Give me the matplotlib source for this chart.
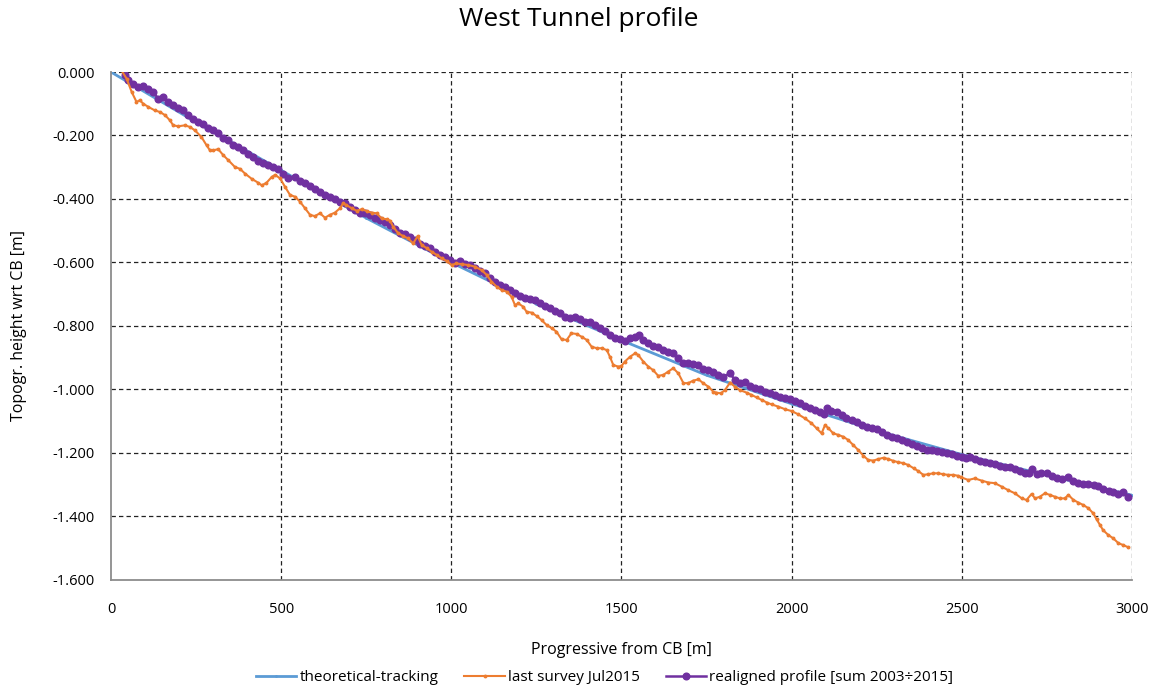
import matplotlib
matplotlib.use("Agg")
import matplotlib.pyplot as plt

# theoretical tracking (read at 250 m steps)
theo_x = [0, 250, 500, 750, 1000, 1250, 1500, 1750, 2000, 2250, 2500, 2750, 3000]
theo_y = [0.000, -0.158, -0.310, -0.460, -0.600, -0.730, -0.845, -0.955, -1.045,
          -1.130, -1.205, -1.270, -1.333]

# last survey Jul2015
survey_x = [31, 46, 61, 75, 85, 95, 110, 129, 144, 159, 173, 183, 198, 217, 232, 247,
            266, 281, 291, 300, 315, 330, 345, 364, 379, 394, 413, 433, 443, 457, 472,
            482, 497, 511, 526, 541, 555, 570, 585, 599, 614, 629, 643, 658, 673, 682,
            692, 707, 722, 737, 751, 766, 781, 795, 810, 820, 829, 844, 859, 873, 888,
            901, 913, 928, 942, 957, 972, 986, 1001, 1015, 1030, 1050, 1069, 1089, 1104,
            1118, 1133, 1148, 1163, 1177, 1187, 1197, 1211, 1221, 1236, 1251, 1265, 1280,
            1295, 1309, 1324, 1339, 1353, 1368, 1383, 1398, 1412, 1427, 1442, 1457, 1466,
            1476, 1491, 1500, 1510, 1525, 1540, 1549, 1564, 1579, 1593, 1608, 1623, 1637,
            1652, 1667, 1682, 1696, 1711, 1726, 1740, 1755, 1770, 1779, 1792, 1804, 1819,
            1833, 1848, 1868, 1882, 1897, 1912, 1927, 1941, 1961, 1980, 2000, 2019, 2039,
            2058, 2073, 2088, 2098, 2108, 2122, 2137, 2152, 2166, 2181, 2196, 2211, 2225,
            2240, 2255, 2270, 2284, 2299, 2313, 2328, 2343, 2358, 2372, 2387, 2401, 2416,
            2431, 2446, 2460, 2475, 2490, 2499, 2519, 2538, 2558, 2578, 2597, 2617, 2636,
            2656, 2676, 2690, 2705, 2715, 2729, 2744, 2759, 2774, 2788, 2803, 2813, 2828,
            2842, 2857, 2872, 2886, 2896, 2906, 2915, 2930, 2945, 2960, 2974, 2989]
survey_y = [0.005, -0.021, -0.063, -0.094, -0.089, -0.100, -0.110, -0.121, -0.126, -0.136,
            -0.152, -0.168, -0.171, -0.168, -0.173, -0.184, -0.205, -0.231, -0.247, -0.247,
            -0.243, -0.262, -0.278, -0.299, -0.305, -0.320, -0.336, -0.349, -0.357, -0.349,
            -0.331, -0.324, -0.335, -0.361, -0.387, -0.393, -0.408, -0.429, -0.450, -0.454,
            -0.445, -0.459, -0.450, -0.443, -0.429, -0.414, -0.419, -0.429, -0.437, -0.432,
            -0.438, -0.443, -0.445, -0.461, -0.464, -0.468, -0.487, -0.508, -0.517, -0.524,
            -0.540, -0.517, -0.545, -0.555, -0.566, -0.576, -0.587, -0.595, -0.608, -0.603,
            -0.605, -0.608, -0.613, -0.624, -0.639, -0.660, -0.676, -0.687, -0.692, -0.708,
            -0.734, -0.729, -0.739, -0.755, -0.758, -0.769, -0.781, -0.797, -0.807, -0.818,
            -0.842, -0.844, -0.823, -0.825, -0.834, -0.844, -0.865, -0.870, -0.870, -0.876,
            -0.897, -0.923, -0.928, -0.926, -0.912, -0.897, -0.886, -0.891, -0.912, -0.928,
            -0.939, -0.957, -0.954, -0.944, -0.933, -0.949, -0.980, -0.980, -0.972, -0.968,
            -0.980, -0.991, -1.007, -1.010, -1.012, -1.002, -0.978, -0.991, -1.002, -1.010,
            -1.017, -1.025, -1.033, -1.041, -1.047, -1.054, -1.062, -1.068, -1.078, -1.091,
            -1.106, -1.122, -1.138, -1.112, -1.122, -1.138, -1.143, -1.149, -1.159, -1.175,
            -1.191, -1.209, -1.222, -1.224, -1.219, -1.215, -1.219, -1.225, -1.229, -1.232,
            -1.238, -1.248, -1.257, -1.269, -1.267, -1.264, -1.264, -1.267, -1.269, -1.269,
            -1.272, -1.277, -1.285, -1.280, -1.287, -1.293, -1.295, -1.306, -1.317, -1.327,
            -1.343, -1.348, -1.329, -1.343, -1.338, -1.327, -1.332, -1.338, -1.343, -1.343,
            -1.332, -1.348, -1.356, -1.364, -1.374, -1.390, -1.409, -1.427, -1.443, -1.458,
            -1.469, -1.484, -1.490, -1.497]

# realigned profile [sum 2003-2015]
realigned_x = [41, 51, 66, 80, 95, 110, 124, 139, 154, 168, 183, 198, 212, 227, 242, 256,
               271, 286, 300, 315, 330, 345, 359, 374, 389, 403, 418, 433, 447, 462, 477,
               492, 506, 521, 541, 555, 570, 585, 599, 614, 629, 643, 658, 673, 687, 702,
               717, 732, 746, 761, 776, 790, 805, 820, 834, 849, 864, 878, 893, 908, 923,
               937, 952, 967, 981, 996, 1011, 1025, 1040, 1055, 1069, 1084, 1099, 1113,
               1128, 1143, 1158, 1172, 1187, 1202, 1216, 1231, 1246, 1260, 1275, 1290, 1304,
               1319, 1334, 1349, 1363, 1378, 1393, 1407, 1422, 1437, 1452, 1466, 1481, 1495,
               1510, 1525, 1540, 1551, 1564, 1579, 1593, 1608, 1623, 1637, 1652, 1667, 1682,
               1696, 1711, 1726, 1740, 1755, 1770, 1785, 1799, 1819, 1833, 1848, 1863, 1877,
               1892, 1907, 1921, 1936, 1951, 1965, 1980, 1995, 2009, 2024, 2039, 2053, 2068,
               2083, 2096, 2105, 2117, 2132, 2147, 2161, 2176, 2191, 2206, 2220, 2235, 2250,
               2264, 2279, 2294, 2309, 2323, 2338, 2353, 2367, 2382, 2397, 2412, 2426, 2441,
               2456, 2471, 2485, 2500, 2512, 2524, 2538, 2553, 2568, 2582, 2597, 2612, 2627,
               2641, 2656, 2671, 2685, 2697, 2707, 2720, 2734, 2749, 2764, 2779, 2793, 2813,
               2828, 2842, 2857, 2872, 2887, 2901, 2916, 2931, 2945, 2960, 2974, 2989]
realigned_y = [-0.010, -0.026, -0.037, -0.047, -0.044, -0.055, -0.063, -0.084, -0.079,
               -0.094, -0.105, -0.113, -0.121, -0.134, -0.147, -0.157, -0.163, -0.176,
               -0.184, -0.191, -0.208, -0.215, -0.229, -0.236, -0.247, -0.257, -0.268,
               -0.281, -0.286, -0.292, -0.299, -0.307, -0.320, -0.333, -0.330, -0.342,
               -0.351, -0.359, -0.367, -0.377, -0.387, -0.393, -0.401, -0.408, -0.414,
               -0.424, -0.435, -0.443, -0.445, -0.450, -0.461, -0.466, -0.471, -0.482,
               -0.495, -0.508, -0.510, -0.521, -0.529, -0.542, -0.548, -0.555, -0.566,
               -0.576, -0.584, -0.593, -0.603, -0.594, -0.605, -0.608, -0.618, -0.626,
               -0.634, -0.650, -0.660, -0.671, -0.676, -0.687, -0.695, -0.706, -0.713,
               -0.716, -0.718, -0.729, -0.737, -0.744, -0.752, -0.760, -0.771, -0.776,
               -0.773, -0.779, -0.786, -0.789, -0.797, -0.807, -0.815, -0.828, -0.839,
               -0.842, -0.846, -0.839, -0.834, -0.828, -0.844, -0.855, -0.863, -0.865,
               -0.876, -0.881, -0.886, -0.902, -0.918, -0.918, -0.920, -0.923, -0.936,
               -0.939, -0.944, -0.954, -0.960, -0.949, -0.970, -0.978, -0.975, -0.989,
               -0.996, -0.999, -1.007, -1.012, -1.017, -1.023, -1.028, -1.031, -1.036,
               -1.044, -1.051, -1.057, -1.065, -1.072, -1.078, -1.059, -1.068, -1.072,
               -1.080, -1.091, -1.096, -1.103, -1.112, -1.117, -1.122, -1.124, -1.135,
               -1.143, -1.149, -1.154, -1.159, -1.166, -1.173, -1.177, -1.183, -1.191,
               -1.191, -1.194, -1.196, -1.201, -1.204, -1.208, -1.212, -1.217, -1.214,
               -1.220, -1.224, -1.227, -1.231, -1.235, -1.241, -1.245, -1.243, -1.251,
               -1.256, -1.262, -1.264, -1.251, -1.266, -1.264, -1.262, -1.272, -1.280,
               -1.283, -1.275, -1.287, -1.293, -1.298, -1.298, -1.301, -1.304, -1.314,
               -1.319, -1.322, -1.329, -1.322, -1.338]

x_ticks = [0, 500, 1000, 1500, 2000, 2500, 3000]
y_ticks = [0.0, -0.2, -0.4, -0.6, -0.8, -1.0, -1.2, -1.4, -1.6]

plt.rcParams['font.family'] = ['Open Sans', 'DejaVu Sans']

fig = plt.figure(figsize=(11.57, 6.95), dpi=100)
ax = fig.add_axes([0.0959, 0.1655, 0.8825, 0.7309])

ax.plot(theo_x, theo_y, color='#5B9BD5', lw=2.0, marker='.', ms=2,
        label='theoretical-tracking', zorder=2)
ax.plot(realigned_x, realigned_y, color='#7030A0', lw=1.8, marker='o', ms=4.8,
        label='realigned profile [sum 2003÷2015]', zorder=3)
ax.plot(survey_x, survey_y, color='#ED7D31', lw=1.5, marker='o', ms=1.8,
        label='last survey Jul2015', zorder=4)

ax.set_xlim(0, 3000)
ax.set_ylim(-1.6, 0.0)
ax.set_xticks(x_ticks)
ax.set_yticks(y_ticks)
ax.set_yticklabels([f"{v:.3f}" for v in y_ticks])
ax.tick_params(length=0, labelsize=10.5, pad=12)
ax.tick_params(axis='x', pad=16)

ax.grid(True, color='#222222', linestyle=(0, (3.5, 2.5)), lw=0.9)
ax.set_axisbelow(True)
# no dashed line over the solid left / bottom axes
ax.xaxis.get_gridlines()[0].set_visible(False)
ax.yaxis.get_gridlines()[-1].set_visible(False)
for s in ['top', 'right']:
    ax.spines[s].set_visible(False)
for s in ['left', 'bottom']:
    ax.spines[s].set_color('#8C8C8C')
    ax.spines[s].set_linewidth(1.3)

ax.set_xlabel('Progressive from CB [m]', fontsize=11.5, labelpad=18)
ax.set_ylabel('Topogr. height wrt CB [m]', fontsize=11.5)
ax.yaxis.set_label_coords(-0.082, 0.5)
fig.suptitle('West Tunnel profile', fontsize=19, y=0.99)

handles, labels = ax.get_legend_handles_labels()
order = [0, 2, 1]
fig.legend([handles[i] for i in order], [labels[i] for i in order],
           loc='lower center', bbox_to_anchor=(0.5225, -0.006), ncol=3,
           frameon=False, fontsize=11, handlelength=2.65, handletextpad=0.2,
           columnspacing=1.7, numpoints=1)

plt.savefig('out.png', dpi=100)
